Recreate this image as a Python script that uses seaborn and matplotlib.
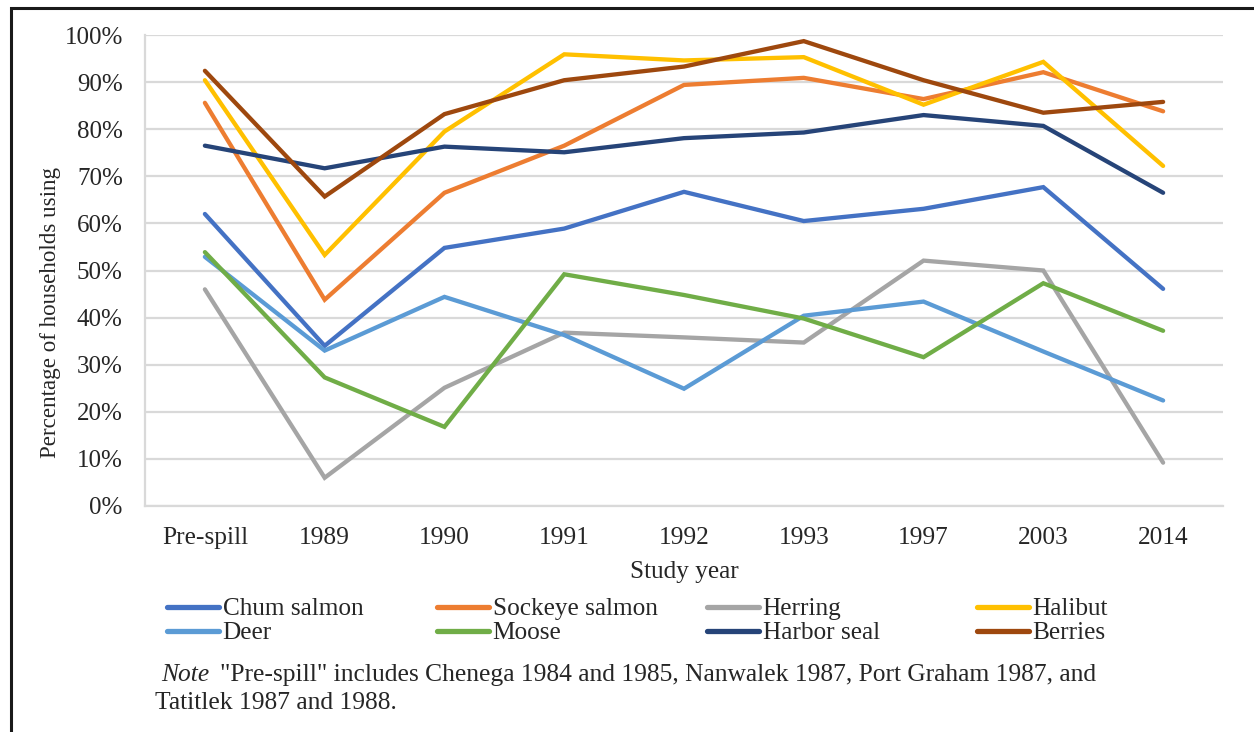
import matplotlib
matplotlib.use("Agg")
import matplotlib.pyplot as plt
import seaborn as sns
import pandas as pd
from matplotlib.lines import Line2D
from matplotlib.patches import Rectangle

years = ["Pre-spill", "1989", "1990", "1991", "1992", "1993", "1997", "2003", "2014"]
species = ["Chum salmon", "Sockeye salmon", "Herring", "Halibut",
           "Deer", "Moose", "Harbor seal", "Berries"]

chum_salmon = [62.0, 34.0, 54.8, 58.9, 66.7, 60.5, 63.1, 67.7, 46.1]
sockeye_salmon = [85.6, 43.8, 66.5, 76.5, 89.4, 90.9, 86.4, 92.1, 83.8]
herring = [46.0, 6.0, 25.1, 36.8, 35.8, 34.7, 52.1, 50.0, 9.2]
halibut = [90.4, 53.3, 79.5, 95.9, 94.6, 95.3, 85.2, 94.3, 72.2]
deer = [52.9, 33.0, 44.4, 36.3, 24.9, 40.4, 43.4, 32.8, 22.4]
moose = [53.9, 27.3, 16.8, 49.2, 44.8, 39.8, 31.6, 47.3, 37.2]
harbor_seal = [76.5, 71.7, 76.3, 75.1, 78.1, 79.3, 83.0, 80.7, 66.5]
berries = [92.4, 65.7, 83.2, 90.4, 93.3, 98.7, 90.4, 83.5, 85.8]

colors = ["#4472C4", "#ED7D31", "#A5A5A5", "#FFC000",
          "#5B9BD5", "#70AD47", "#264478", "#9E480E"]

yticks = [0, 10, 20, 30, 40, 50, 60, 70, 80, 90, 100]
ytick_labels = [f"{v}%" for v in yticks]

series = [chum_salmon, sockeye_salmon, herring, halibut, deer, moose, harbor_seal, berries]
rows = []
for name, vals in zip(species, series):
    for i, (yr, v) in enumerate(zip(years, vals)):
        rows.append({"species": name, "pos": i, "year": yr, "pct": v})
df = pd.DataFrame(rows)

sns.set_theme(style="white")
plt.rcParams["font.family"] = ["Liberation Serif", "DejaVu Serif"]

W, H = 1254, 732
fig = plt.figure(figsize=(W / 100, H / 100), dpi=100)
ax = fig.add_axes([145 / W, 1 - 506 / H, (1223 - 145) / W, (506 - 35) / H])

palette = dict(zip(species, colors))
sns.lineplot(data=df, x="pos", y="pct", hue="species", hue_order=species,
             palette=palette, linewidth=3.1, legend=False, ax=ax, sort=False,
             zorder=3)
for l in ax.lines:
    l.set_solid_capstyle("round")
    l.set_solid_joinstyle("miter")

ax.set_xlim(-0.5, len(years) - 0.5)
ax.set_ylim(0, 100)
ax.set_xticks(range(len(years)))
ax.set_xticklabels(years, fontsize=18.3)
ax.set_yticks(yticks)
ax.set_yticklabels(ytick_labels, fontsize=18)
ax.tick_params(axis="x", length=0, pad=15)
ax.tick_params(axis="y", length=0, pad=16)
ax.yaxis.grid(True, color="#D9D9D9", linewidth=1.6)
ax.set_axisbelow(True)
for s in ["top", "right"]:
    ax.spines[s].set_visible(False)
ax.spines["left"].set_color("#D9D9D9")
ax.spines["left"].set_linewidth(1.6)
ax.spines["bottom"].set_color("#D9D9D9")
ax.spines["bottom"].set_linewidth(1.6)

ax.set_xlabel("Study year", fontsize=18.2, labelpad=9)
ax.set_ylabel("Percentage of households using", fontsize=16.6)
ax.yaxis.set_label_coords(-0.078, 0.41)

# legend: four columns, two rows each
handles = {n: Line2D([], [], color=c, linewidth=3.8, solid_capstyle="round")
           for n, c in zip(species, colors)}
col_x = [167, 437, 707, 977]
row_y = [609, 633]
for k, name in enumerate(species):
    cx = col_x[k % 4]
    ry = row_y[k // 4]
    fig.legend([handles[name]], [name], loc="center left",
               bbox_to_anchor=(cx / W, 1 - ry / H), frameon=False,
               fontsize=18.2, handlelength=2.05, handletextpad=0.15,
               borderpad=0, borderaxespad=0)

# note
note = fig.text(161 / W, 1 - 675 / H, "Note", fontsize=18.4, style="italic",
                va="center", ha="left")
ax.annotate('"Pre-spill" includes Chenega 1984 and 1985, Nanwalek 1987, Port Graham 1987, and',
            xy=(1, 0.5), xycoords=note, xytext=(8, 0), textcoords="offset points",
            fontsize=18.4, va="center", ha="left", annotation_clip=False)
fig.text(155 / W, 1 - 703 / H, "Tatitlek 1987 and 1988.", fontsize=18.4,
         va="center", ha="left")

# outer frame
fig.add_artist(Rectangle((11 / W, -0.1), 2.0, 1 - 8 / H + 0.1,
                         transform=fig.transFigure, fill=False,
                         edgecolor="#1a1a1a", linewidth=2.2))

fig.savefig("out.png", dpi=100)
